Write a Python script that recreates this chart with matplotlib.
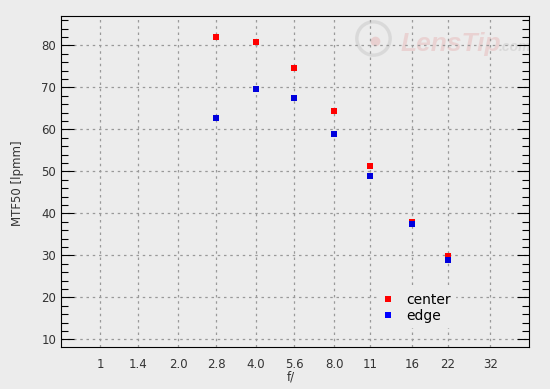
import matplotlib
matplotlib.use("Agg")
import matplotlib.pyplot as plt
from matplotlib.ticker import FixedLocator, MultipleLocator, NullLocator

# f-numbers and MTF50 values
fnum = [2.8, 4.0, 5.6, 8.0, 11, 16, 22]
center = [82.1, 80.9, 74.7, 64.3, 51.2, 37.9, 29.9]
edge = [62.6, 69.7, 67.4, 59.0, 49.0, 37.4, 29.0]
xticks = [1, 1.4, 2.0, 2.8, 4.0, 5.6, 8.0, 11, 16, 22, 32]
xlabels = ["1", "1.4", "2.0", "2.8", "4.0", "5.6", "8.0", "11", "16", "22", "32"]

bg = "#ececec"
fig = plt.figure(figsize=(5.5, 3.89), dpi=100, facecolor=bg)
ax = fig.add_axes([0.1109, 0.108, 0.8515, 0.8509], facecolor=bg)

ax.plot(fnum, center, "s", color="#ff0000", ms=4.5, mew=0, label="center", zorder=3)
ax.plot(fnum, edge, "s", color="#0000dd", ms=4.5, mew=0, label="edge", zorder=4)

ax.set_xscale("log", base=2)
ax.set_xlim(2 ** -0.5, 2 ** 5.5)
ax.set_ylim(8.2, 87)
ax.xaxis.set_major_locator(FixedLocator(xticks))
ax.xaxis.set_minor_locator(NullLocator())
ax.set_xticks(xticks, xlabels)
ax.yaxis.set_major_locator(MultipleLocator(10))
ax.yaxis.set_minor_locator(MultipleLocator(2))

ax.tick_params(axis="x", which="both", length=0, pad=8, labelsize=8.5,
               labelcolor="#333333", top=False, bottom=False)
ax.tick_params(axis="y", which="major", direction="in", length=9, width=0.8,
               left=True, right=True, labelsize=8.5, labelcolor="#333333", color="black")
ax.tick_params(axis="y", which="minor", direction="in", length=5, width=0.8,
               left=True, right=True)

ax.grid(True, which="major", color="#999999", linestyle=(0, (2, 3)), linewidth=0.9)

ax.set_xlabel("f/", fontsize=8.5, color="#333333")
ax.set_ylabel("MTF50 [lpmm]", fontsize=8.5, color="#333333")
ax.xaxis.set_label_coords(0.491, -0.07)
ax.yaxis.set_label_coords(-0.08, 0.495)

leg = ax.legend(loc="center left", bbox_to_anchor=(0.66, 0.118), frameon=True,
                fontsize=10, handlelength=1.0, handletextpad=0.8,
                borderpad=0.3, labelspacing=0.2, markerscale=1.0)
leg.get_frame().set_facecolor(bg)
leg.get_frame().set_edgecolor(bg)
leg.get_frame().set_alpha(1)
leg.legend_handles[1].set_color("#0000ff")

# faint watermark
ax.text(0.725, 0.895, "LensTip", transform=ax.transAxes, fontsize=19,
        family="Liberation Sans", fontstyle="italic", fontweight="bold",
        color="#e6b4b4", alpha=0.45, ha="left", va="baseline", zorder=1)
ax.text(0.935, 0.895, ".com", transform=ax.transAxes, fontsize=10,
        family="Liberation Sans", fontstyle="italic", fontweight="bold",
        color="#c8c8c8", alpha=0.5, ha="left", va="baseline", zorder=1)
ax.plot([0.6655], [0.935], "o", transform=ax.transAxes, ms=24, mfc="none",
        mec="#c8c8c8", mew=2.5, alpha=0.5, zorder=1)
ax.plot([0.671], [0.925], "o", transform=ax.transAxes, ms=7, mfc="#e6b4b4",
        mec="none", alpha=0.5, zorder=1)

fig.savefig("out.png", dpi=100, facecolor=bg)
